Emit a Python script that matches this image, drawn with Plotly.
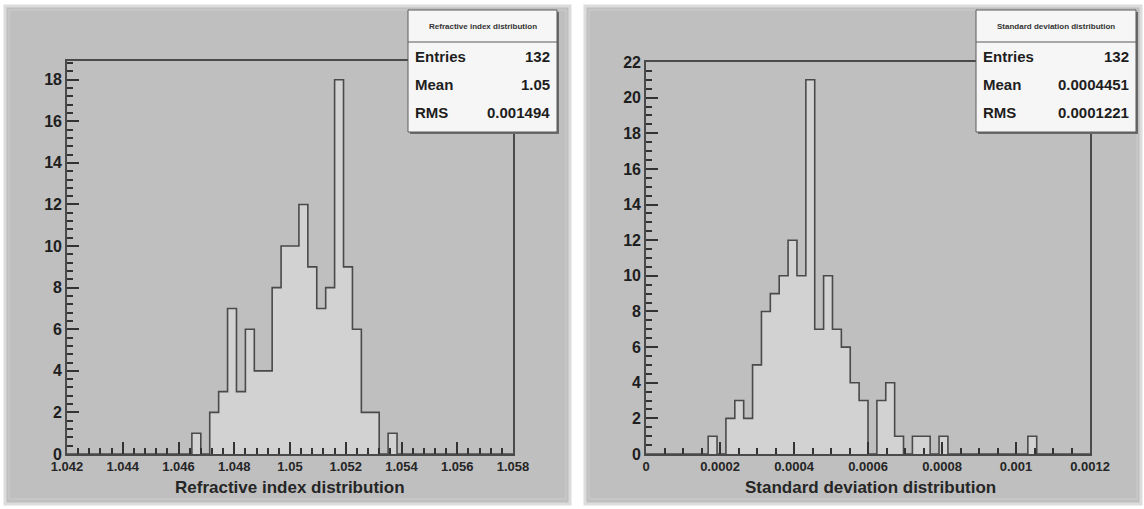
import plotly.graph_objects as go

W, H = 1144, 509

# histogram definitions (50 bins over the axis range, as in the ROOT canvas)
ri_range = [1.042, 1.058]
ri_nbins = 50
ri_counts = [0, 0, 0, 0, 0, 0, 0, 0, 0, 0, 0, 0, 0, 0,
             1, 0, 2, 3, 7, 3, 6, 4, 4, 8, 10, 10, 12, 9, 7, 8, 18, 9, 6, 2, 2, 0, 1,
             0, 0, 0, 0, 0, 0, 0, 0, 0, 0, 0, 0, 0]
ri_ticks = [1.042, 1.044, 1.046, 1.048, 1.05, 1.052, 1.054, 1.056, 1.058]
ri_ticktext = ["1.042", "1.044", "1.046", "1.048", "1.05", "1.052", "1.054", "1.056", "1.058"]
ri_yticks = [0, 2, 4, 6, 8, 10, 12, 14, 16, 18]
ri_ymax = 18.9
ri_title = "Refractive index distribution"
ri_stats = [("Entries", "132"), ("Mean", "1.05"), ("RMS", "0.001494")]

sd_range = [0.0, 0.0012]
sd_nbins = 50
sd_counts = [0, 0, 0, 0, 0, 0, 0, 1, 0, 2, 3, 2, 5, 8, 9, 10, 12, 10, 21, 7, 10, 7, 6, 4, 3,
             0, 3, 4, 1, 0, 1, 1, 0, 1, 0, 0, 0, 0, 0, 0, 0, 0, 0, 1, 0, 0, 0, 0, 0, 0]
sd_ticks = [0, 0.0002, 0.0004, 0.0006, 0.0008, 0.001, 0.0012]
sd_ticktext = ["0", "0.0002", "0.0004", "0.0006", "0.0008", "0.001", "0.0012"]
sd_yticks = [0, 2, 4, 6, 8, 10, 12, 14, 16, 18, 20, 22]
sd_ymax = 22
sd_title = "Standard deviation distribution"
sd_stats = [("Entries", "132"), ("Mean", "0.0004451"), ("RMS", "0.0001221")]

FONT = "Liberation Sans"
LINE = "#4a4a4a"
TICK = "#333333"
PANEL = "#bfbfbf"
FILL = "#d2d2d2"


def px(x):
    return x / W


def py(y):
    return 1 - y / H


def step_trace(rng, nbins, counts, xa, ya):
    w = (rng[1] - rng[0]) / nbins
    edges = [rng[0] + i * w for i in range(nbins + 1)]
    return go.Scatter(x=edges, y=counts + [counts[-1]], mode="lines", line_shape="hv",
                      fill="tozeroy", fillcolor=FILL, line=dict(color=LINE, width=1.6),
                      xaxis=xa, yaxis=ya, hoverinfo="skip", showlegend=False)


fig = go.Figure()
fig.add_trace(step_trace(ri_range, ri_nbins, ri_counts, "x", "y"))
fig.add_trace(step_trace(sd_range, sd_nbins, sd_counts, "x2", "y2"))

ax_common = dict(showgrid=False, zeroline=False, showline=True, mirror=True,
                 linecolor=LINE, linewidth=1.6, ticks="inside", ticklen=12,
                 tickcolor=TICK, tickwidth=1.6, automargin=False, layer="above traces")
xfont = dict(family=FONT, size=13, color="#262626", weight=700)
yfont = dict(family=FONT, size=16, color="#1e1e1e", weight=700)
minor_style = dict(ticks="inside", ticklen=6, tickcolor=TICK, tickwidth=1.5, showgrid=False)

fig.update_layout(
    width=W, height=H,
    margin=dict(l=0, r=0, t=0, b=0),
    paper_bgcolor="white",
    plot_bgcolor="rgba(0,0,0,0)",
    xaxis=dict(domain=[px(67), px(513)], range=ri_range, tickvals=ri_ticks,
               ticktext=ri_ticktext, tickfont=xfont, anchor="y",
               minor=dict(dtick=0.0004, tick0=1.042, **minor_style), **ax_common),
    yaxis=dict(domain=[py(454), py(61)], range=[0, ri_ymax], tickvals=ri_yticks,
               tickfont=yfont, anchor="x",
               minor=dict(dtick=0.4, tick0=0, **minor_style), **ax_common),
    xaxis2=dict(domain=[px(646), px(1090)], range=sd_range, tickvals=sd_ticks,
                ticktext=sd_ticktext, tickfont=xfont, anchor="y2",
                minor=dict(dtick=0.00005, tick0=0, **minor_style), **ax_common),
    yaxis2=dict(domain=[py(454), py(62)], range=[0, sd_ymax], tickvals=sd_yticks,
                tickfont=yfont, anchor="x2",
                minor=dict(dtick=0.5, tick0=0, **minor_style), **ax_common),
)

shapes = []
annotations = []

# grey ROOT canvases with a light bevel
for x0, x1 in [(5, 570), (585, 1141)]:
    shapes.append(dict(type="rect", xref="paper", yref="paper", layer="below",
                       x0=px(x0), x1=px(x1), y0=py(504), y1=py(6),
                       fillcolor=PANEL, line=dict(color="#dcdcdc", width=3)))
    shapes.append(dict(type="rect", xref="paper", yref="paper", layer="below",
                       x0=px(x0 + 4), x1=px(x1 - 4), y0=py(499), y1=py(10),
                       fillcolor="rgba(0,0,0,0)", line=dict(color="#cdcdcd", width=1)))

# axis titles
for title, cx in [(ri_title, 290), (sd_title, 870)]:
    annotations.append(dict(text=title, xref="paper", yref="paper", x=px(cx), y=py(487),
                            showarrow=False, xanchor="center", yanchor="middle",
                            font=dict(family=FONT, size=17, color="#262626", weight=700)))

# statistics boxes
for (bx0, bx1), title, stats in [((408, 557), ri_title, ri_stats),
                                 ((976, 1136), sd_title, sd_stats)]:
    shapes.append(dict(type="rect", xref="paper", yref="paper", layer="above",
                       x0=px(bx0 + 2), x1=px(bx1 + 2), y0=py(134), y1=py(12),
                       fillcolor="#6a6a6a", line=dict(width=0)))
    shapes.append(dict(type="rect", xref="paper", yref="paper", layer="above",
                       x0=px(bx0), x1=px(bx1), y0=py(132), y1=py(10),
                       fillcolor="#f6f6f6", line=dict(color="#5a5a5a", width=1)))
    shapes.append(dict(type="line", xref="paper", yref="paper", layer="above",
                       x0=px(bx0), x1=px(bx1), y0=py(42), y1=py(42),
                       line=dict(color="#5a5a5a", width=1)))
    annotations.append(dict(text=title, xref="paper", yref="paper",
                            x=px((bx0 + bx1) / 2), y=py(26), showarrow=False,
                            xanchor="center", yanchor="middle",
                            font=dict(family=FONT, size=8, color="#333333", weight=700)))
    for i, (lab, val) in enumerate(stats):
        yy = py(57 + 28 * i)
        annotations.append(dict(text=lab, xref="paper", yref="paper", x=px(bx0 + 5), y=yy,
                                showarrow=False, xanchor="left", yanchor="middle",
                                font=dict(family=FONT, size=15, color="#1e1e1e", weight=700)))
        annotations.append(dict(text=val, xref="paper", yref="paper", x=px(bx1 - 5), y=yy,
                                showarrow=False, xanchor="right", yanchor="middle",
                                font=dict(family=FONT, size=15, color="#1e1e1e", weight=700)))

fig.update_layout(shapes=shapes, annotations=annotations)

# drop the default page margin so the figure sits at the window's corner
fig.write_html("out.html", config={"displayModeBar": False},
               post_script="document.body.style.margin='0';document.body.style.overflow='hidden';")
